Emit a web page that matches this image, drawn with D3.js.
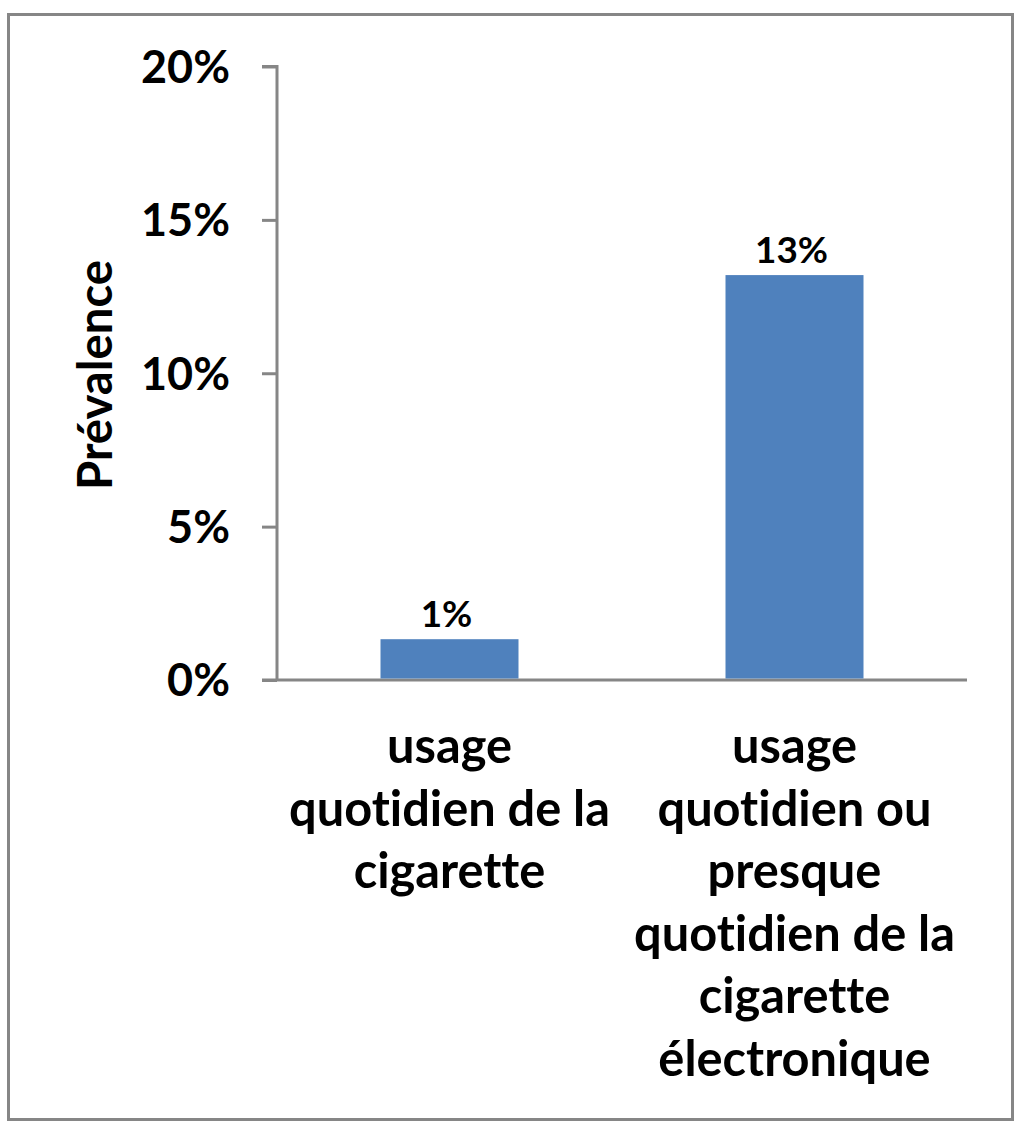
<!DOCTYPE html>
<html>
<head>
<meta charset="utf-8">
<script src="https://cdn.jsdelivr.net/npm/d3@7"></script>
<style>
  html, body { margin: 0; padding: 0; background: #fff; }
  svg text { font-family: Lato, "Open Sans", sans-serif; font-weight: 700; fill: #000;
    font-variant-ligatures: none; font-feature-settings: "liga" 0, "clig" 0; }
</style>
</head>
<body>
<svg id="chart" width="1025" height="1133"></svg>
<script>
const categories = [
  ["usage", "quotidien de la", "cigarette"],
  ["usage", "quotidien ou", "presque", "quotidien de la", "cigarette", "électronique"]
];
const values = [1.33, 13.2];
const valueLabels = ["1%", "13%"];
const yTicks = [0, 5, 10, 15, 20];
const yTitle = "Prévalence";

const svg = d3.select("#chart");
const axisColor = "#868686";
const barColor = "#4f81bd";

// frame
svg.append("rect").attr("x", 8.5).attr("y", 14.5).attr("width", 1004).attr("height", 1105)
  .attr("fill", "none").attr("stroke", axisColor).attr("stroke-width", 3);

const y = d3.scaleLinear().domain([0, 20]).range([680, 66.5]);
const x = d3.scaleBand().domain(d3.range(categories.length)).range([277, 967])
  .paddingInner(0.6).paddingOuter(0.3);

// helper to fit font size to a target width
function fitSize(str, target, base) {
  const t = svg.append("text").attr("font-size", base).text(str);
  const w = t.node().getComputedTextLength();
  t.remove();
  return base * target / w;
}
const tickSize = fitSize("20%", 89, 40);
const catSize = fitSize("quotidien de la", 321, 40);
const titleSize = fitSize(yTitle, 230, 40);
const valSize = fitSize("13%", 73, 40);

// y axis
const yAxis = d3.axisLeft(y).tickValues(yTicks).tickSize(15).tickPadding(32)
  .tickFormat(d => d + "%");
const gy = svg.append("g").attr("transform", "translate(277,0)").call(yAxis);
gy.select(".domain").attr("stroke", axisColor).attr("stroke-width", 3)
  .attr("d", `M-15,${y(20)}H0V${y(0)}`);
gy.selectAll(".tick line").attr("stroke", axisColor).attr("stroke-width", 3);
gy.selectAll(".tick text").attr("font-size", tickSize).attr("font-family", "Lato, 'Open Sans', sans-serif")
  .attr("font-weight", 700).attr("fill", "#000").attr("dy", "0.35em");

// x axis line
const xAxis = d3.axisBottom(x).tickSize(0).tickFormat("");
const gx = svg.append("g").attr("transform", `translate(0,${y(0)})`).call(xAxis);
gx.select(".domain").attr("stroke", axisColor).attr("stroke-width", 3)
  .attr("d", `M262,0H967`);

// bars
svg.selectAll("rect.bar").data(values).enter().append("rect").attr("class", "bar")
  .attr("x", (d, i) => x(i)).attr("width", x.bandwidth())
  .attr("y", d => y(d)).attr("height", d => y(0) - y(d) - 1.5)
  .attr("fill", barColor);

// value labels
svg.selectAll("text.val").data(values).enter().append("text").attr("class", "val")
  .attr("x", (d, i) => x(i) + x.bandwidth() / 2 - 3)
  .attr("y", d => y(d) - 12)
  .attr("text-anchor", "middle").attr("font-size", valSize)
  .text((d, i) => valueLabels[i]);

// category labels
const lineH = 62.6;
categories.forEach((lines, i) => {
  const t = svg.append("text").attr("text-anchor", "middle").attr("font-size", catSize);
  lines.forEach((ln, j) => {
    t.append("tspan").attr("x", x(i) + x.bandwidth() / 2).attr("y", 763 + j * lineH).text(ln);
  });
});

// y title
svg.append("text").attr("transform", "translate(112,375) rotate(-90)")
  .attr("text-anchor", "middle").attr("font-size", titleSize).text(yTitle);
</script>
</body>
</html>
